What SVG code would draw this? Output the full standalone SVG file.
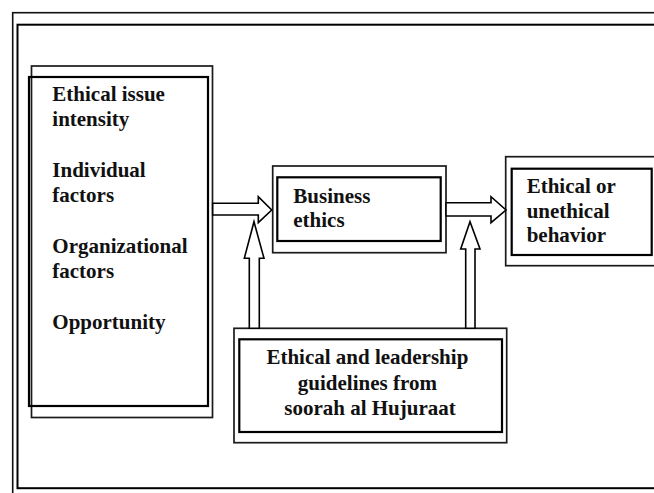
<svg xmlns="http://www.w3.org/2000/svg" width="654" height="493" viewBox="0 0 654 493">
  <style>
    .frame-outer { fill: none; stroke: #111; stroke-width: 1.6; }
    .frame-inner { fill: none; stroke: #000; stroke-width: 2; }
    .box-outer { fill: none; stroke: #1a1a1a; stroke-width: 1.7; }
    .box-inner { fill: none; stroke: #000; stroke-width: 2.2; }
    .label { font-family: "Liberation Serif", "Times New Roman", serif; font-weight: bold; font-size: 21px; fill: #111; }
    .arrow { fill: #fff; stroke: #000; stroke-width: 1.6; stroke-linejoin: miter; }
  </style>
  <rect width="654" height="493" fill="#fff"/>

  <!-- page frame (runs off the right and bottom edges) -->
  <g id="frame">
    <rect class="frame-outer" x="12.7" y="12.7" width="700" height="520"/>
    <rect class="frame-inner" x="17.5" y="24.7" width="700" height="463.5"/>
  </g>

  <!-- influencing factors -->
  <g id="factors">
    <rect class="box-outer" x="31.5" y="66" width="181" height="351.5"/>
    <rect class="box-inner" x="29" y="77" width="179" height="329"/>
    <text class="label" x="52.3">
      <tspan x="52.3" y="100.7">Ethical issue</tspan>
      <tspan x="52.3" y="126">intensity</tspan>
      <tspan x="52.3" y="176.7">Individual</tspan>
      <tspan x="52.3" y="202">factors</tspan>
      <tspan x="52.3" y="252.8">Organizational</tspan>
      <tspan x="52.3" y="278">factors</tspan>
      <tspan x="52.3" y="328.5">Opportunity</tspan>
    </text>
  </g>

  <!-- business ethics -->
  <g id="business-ethics">
    <rect class="box-outer" x="272.7" y="166" width="173.3" height="86.7"/>
    <rect class="box-inner" x="277.3" y="177.3" width="163.4" height="63.7"/>
    <text class="label">
      <tspan x="293.3" y="203.3">Business</tspan>
      <tspan x="293.3" y="226.5">ethics</tspan>
    </text>
  </g>

  <!-- outcome -->
  <g id="behavior">
    <rect class="box-outer" x="505.7" y="156.7" width="200" height="109"/>
    <rect class="box-inner" x="511.7" y="168.7" width="140" height="86.3"/>
    <text class="label">
      <tspan x="526.7" y="193.3">Ethical or</tspan>
      <tspan x="526.7" y="218">unethical</tspan>
      <tspan x="526.7" y="241.7">behavior</tspan>
    </text>
  </g>

  <!-- guidelines -->
  <g id="guidelines">
    <rect class="box-outer" x="234" y="328.3" width="272.7" height="114.4"/>
    <rect class="box-inner" x="239.3" y="339.3" width="262.7" height="92.7"/>
    <text class="label" text-anchor="middle">
      <tspan x="370" y="364">Ethical and leadership</tspan>
      <tspan x="370" y="389.5">guidelines from</tspan>
      <tspan x="370" y="415">soorah al Hujuraat</tspan>
    </text>
  </g>

  <!-- block arrows -->
  <g id="connectors">
    <polygon class="arrow" points="212.7,203.3 258.3,203.3 258.3,196.7 271.7,210 258.3,222.7 258.3,215 212.7,215"/>
    <polygon class="arrow" points="446,202.7 491,202.7 491,196.7 506,210 491,222.7 491,216 446,216"/>
    <polygon class="arrow" points="249.3,328.3 249.3,258.3 244.3,258.3 254,221.7 264,258.3 259.3,258.3 259.3,328.3"/>
    <polygon class="arrow" points="465.7,328.3 465.7,249 460.7,249 470,221.7 480,249 475,249 475,328.3"/>
  </g>
</svg>
